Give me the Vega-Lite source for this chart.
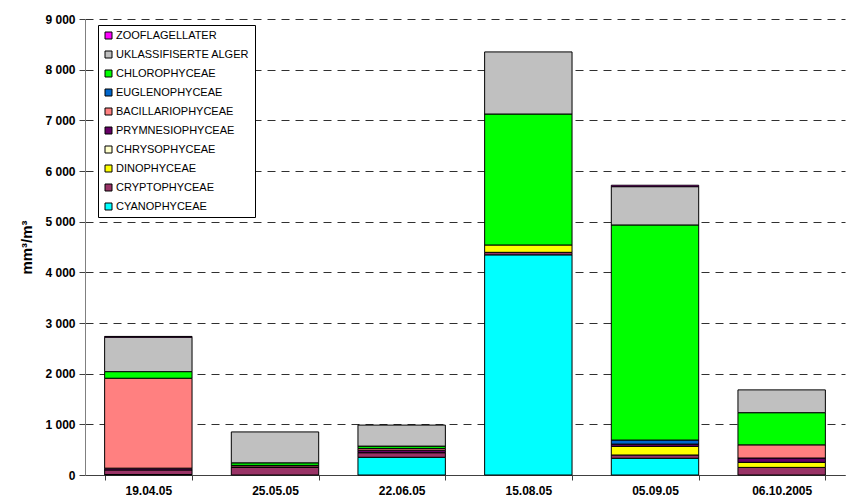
{
  "$schema": "https://vega.github.io/schema/vega-lite/v6.json",
  "width": 760,
  "height": 456,
  "autosize": {"type": "none"},
  "padding": {"left": 85, "top": 19, "right": 6, "bottom": 24},
  "background": "white",
  "config": {"view": {"stroke": null}, "font": "Liberation Sans"},
  "data": {
    "values": [
      {"d": "19.04.05", "g": "CYANOPHYCEAE", "v": 10},
      {"d": "19.04.05", "g": "CRYPTOPHYCEAE", "v": 90},
      {"d": "19.04.05", "g": "PRYMNESIOPHYCEAE", "v": 35},
      {"d": "19.04.05", "g": "BACILLARIOPHYCEAE", "v": 1775},
      {"d": "19.04.05", "g": "CHLOROPHYCEAE", "v": 130},
      {"d": "19.04.05", "g": "UKLASSIFISERTE ALGER", "v": 680},
      {"d": "19.04.05", "g": "ZOOFLAGELLATER", "v": 15},
      {"d": "25.05.05", "g": "CRYPTOPHYCEAE", "v": 150},
      {"d": "25.05.05", "g": "PRYMNESIOPHYCEAE", "v": 10},
      {"d": "25.05.05", "g": "BACILLARIOPHYCEAE", "v": 30},
      {"d": "25.05.05", "g": "CHLOROPHYCEAE", "v": 50},
      {"d": "25.05.05", "g": "UKLASSIFISERTE ALGER", "v": 610},
      {"d": "22.06.05", "g": "CYANOPHYCEAE", "v": 350},
      {"d": "22.06.05", "g": "CRYPTOPHYCEAE", "v": 90},
      {"d": "22.06.05", "g": "PRYMNESIOPHYCEAE", "v": 50},
      {"d": "22.06.05", "g": "BACILLARIOPHYCEAE", "v": 35},
      {"d": "22.06.05", "g": "CHLOROPHYCEAE", "v": 45},
      {"d": "22.06.05", "g": "UKLASSIFISERTE ALGER", "v": 415},
      {"d": "15.08.05", "g": "CYANOPHYCEAE", "v": 4345},
      {"d": "15.08.05", "g": "CRYPTOPHYCEAE", "v": 50},
      {"d": "15.08.05", "g": "DINOPHYCEAE", "v": 145},
      {"d": "15.08.05", "g": "CHLOROPHYCEAE", "v": 2585},
      {"d": "15.08.05", "g": "UKLASSIFISERTE ALGER", "v": 1225},
      {"d": "05.09.05", "g": "CYANOPHYCEAE", "v": 330},
      {"d": "05.09.05", "g": "CRYPTOPHYCEAE", "v": 65},
      {"d": "05.09.05", "g": "DINOPHYCEAE", "v": 170},
      {"d": "05.09.05", "g": "PRYMNESIOPHYCEAE", "v": 45},
      {"d": "05.09.05", "g": "EUGLENOPHYCEAE", "v": 80},
      {"d": "05.09.05", "g": "CHLOROPHYCEAE", "v": 4245},
      {"d": "05.09.05", "g": "UKLASSIFISERTE ALGER", "v": 756},
      {"d": "05.09.05", "g": "ZOOFLAGELLATER", "v": 28},
      {"d": "06.10.2005", "g": "CRYPTOPHYCEAE", "v": 150},
      {"d": "06.10.2005", "g": "DINOPHYCEAE", "v": 100},
      {"d": "06.10.2005", "g": "PRYMNESIOPHYCEAE", "v": 85},
      {"d": "06.10.2005", "g": "BACILLARIOPHYCEAE", "v": 260},
      {"d": "06.10.2005", "g": "CHLOROPHYCEAE", "v": 635},
      {"d": "06.10.2005", "g": "UKLASSIFISERTE ALGER", "v": 450}
    ]
  },
  "transform": [
    {"calculate": "indexof(['CYANOPHYCEAE','CRYPTOPHYCEAE','DINOPHYCEAE','CHRYSOPHYCEAE','PRYMNESIOPHYCEAE','BACILLARIOPHYCEAE','EUGLENOPHYCEAE','CHLOROPHYCEAE','UKLASSIFISERTE ALGER','ZOOFLAGELLATER'], datum.g)", "as": "k"}
  ],
  "mark": {"type": "bar", "stroke": "black", "strokeWidth": 1},
  "encoding": {
    "x": {
      "field": "d",
      "type": "nominal",
      "sort": ["19.04.05", "25.05.05", "22.06.05", "15.08.05", "05.09.05", "06.10.2005"],
      "scale": {"paddingInner": 0.31, "paddingOuter": 0.155},
      "axis": {
        "title": null,
        "labelAngle": 0,
        "labelFontWeight": "bold",
        "labelFontSize": 12,
        "labelColor": "black",
        "labelPadding": 5,
        "domainColor": "#404040",
        "domainWidth": 1,
        "tickBand": "extent",
        "tickColor": "#404040",
        "tickSize": 5
      }
    },
    "y": {
      "field": "v",
      "type": "quantitative",
      "stack": "zero",
      "scale": {"domain": [0, 9000], "nice": false},
      "axis": {
        "title": "mm³/m³",
        "titleFontSize": 15,
        "titleFontWeight": "bold",
        "titleColor": "black",
        "titlePadding": 10,
        "values": [0, 1000, 2000, 3000, 4000, 5000, 6000, 7000, 8000, 9000],
        "labelExpr": "datum.value >= 1000 ? floor(datum.value / 1000) + ' 000' : '0'",
        "labelFontWeight": "bold",
        "labelFontSize": 12,
        "labelColor": "black",
        "labelPadding": 4,
        "domainColor": "#808080",
        "domainWidth": 1,
        "tickColor": "#404040",
        "tickSize": 6,
        "grid": true,
        "gridColor": "#303030",
        "gridDash": [8, 6],
        "gridWidth": 1
      }
    },
    "color": {
      "field": "g",
      "type": "nominal",
      "scale": {
        "domain": ["ZOOFLAGELLATER", "UKLASSIFISERTE ALGER", "CHLOROPHYCEAE", "EUGLENOPHYCEAE", "BACILLARIOPHYCEAE", "PRYMNESIOPHYCEAE", "CHRYSOPHYCEAE", "DINOPHYCEAE", "CRYPTOPHYCEAE", "CYANOPHYCEAE"],
        "range": ["#FF00FF", "#C0C0C0", "#00FF00", "#0066CC", "#FF8080", "#660066", "#FFFFCC", "#FFFF00", "#993366", "#00FFFF"]
      },
      "legend": {
        "title": null,
        "orient": "none",
        "legendX": 13,
        "legendY": 6,
        "symbolType": "square",
        "symbolSize": 49,
        "symbolStrokeColor": "black",
        "symbolStrokeWidth": 1,
        "labelFontSize": 11,
        "labelColor": "black",
        "labelOffset": 2,
        "rowPadding": 7,
        "padding": 5,
        "strokeColor": "black",
        "fillColor": "white",
        "values": ["ZOOFLAGELLATER", "UKLASSIFISERTE ALGER", "CHLOROPHYCEAE", "EUGLENOPHYCEAE", "BACILLARIOPHYCEAE", "PRYMNESIOPHYCEAE", "CHRYSOPHYCEAE", "DINOPHYCEAE", "CRYPTOPHYCEAE", "CYANOPHYCEAE"]
      }
    },
    "order": {"field": "k", "type": "quantitative", "sort": "ascending"}
  }
}
